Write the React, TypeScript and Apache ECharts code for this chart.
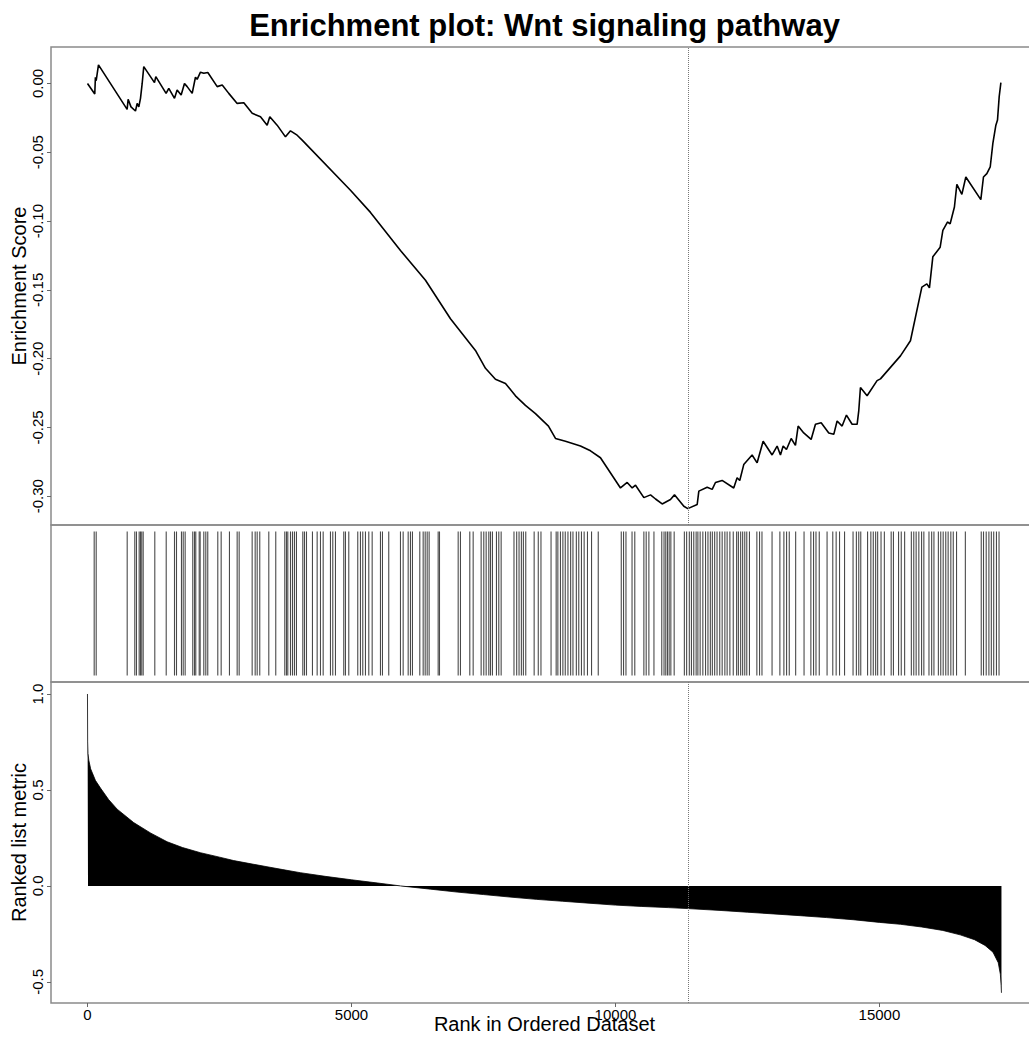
import React, { useEffect, useRef } from "react";
import * as echarts from "echarts";

const TITLE = "Enrichment plot: Wnt signaling pathway";
const X_TITLE = "Rank in Ordered Dataset";
const Y_TITLE_TOP = "Enrichment Score";
const Y_TITLE_BOTTOM = "Ranked list metric";

const X_TICKS = [0, 5000, 10000, 15000];
const ES_TICKS = [-0.3, -0.25, -0.2, -0.15, -0.1, -0.05, 0.0];
const METRIC_TICKS = [-0.5, 0.0, 0.5, 1.0];

const PEAK_RANK = 11370;

// running enrichment score: [rank, ES]
const esCurve: number[][] = [
  [0, 0], [138, -0.0077], [150, 0.0045], [165, 0.002], [208, 0.0135], [751, -0.0188], [770, -0.0115],
  [824, -0.017], [909, -0.02], [941, -0.0145], [972, -0.017], [1004, -0.0108], [1036, 0.0], [1066, 0.0122],
  [1269, 0.0006], [1294, 0.005], [1489, -0.0072], [1540, -0.0035], [1648, -0.0108], [1698, -0.0047],
  [1774, -0.0084], [1837, 0.0], [1888, -0.0023], [1983, -0.0072], [2045, 0.0045], [2077, 0.003],
  [2140, 0.0082], [2203, 0.0074], [2279, 0.008], [2457, -0.0023], [2552, -0.0011], [2676, -0.0072],
  [2835, -0.0145], [2961, -0.014], [3120, -0.0217], [3277, -0.0242], [3403, -0.0303], [3453, -0.0242],
  [3592, -0.0303], [3750, -0.0388], [3845, -0.0344], [3971, -0.0376], [4066, -0.0412], [4981, -0.0776],
  [5360, -0.0937], [5928, -0.1214], [6402, -0.143], [6875, -0.171], [7348, -0.194], [7538, -0.207],
  [7727, -0.215], [7917, -0.218], [8106, -0.227], [8295, -0.234], [8485, -0.24], [8731, -0.249],
  [8864, -0.258], [9053, -0.26], [9337, -0.2635], [9527, -0.267], [9716, -0.272], [10095, -0.294],
  [10222, -0.29], [10317, -0.294], [10380, -0.292], [10538, -0.301], [10664, -0.299], [10759, -0.302],
  [10885, -0.3056], [11042, -0.3024], [11118, -0.299], [11295, -0.3073], [11370, -0.309], [11548, -0.306],
  [11579, -0.2963], [11737, -0.2934], [11832, -0.295], [11894, -0.29], [12020, -0.2885], [12240, -0.294],
  [12304, -0.2866], [12354, -0.2886], [12430, -0.277], [12588, -0.27], [12683, -0.2757], [12797, -0.26],
  [12967, -0.27], [13062, -0.2635], [13125, -0.27], [13176, -0.2635], [13239, -0.266], [13328, -0.258],
  [13409, -0.263], [13460, -0.249], [13566, -0.254], [13706, -0.2587], [13788, -0.2477], [13896, -0.2466],
  [14040, -0.254], [14135, -0.255], [14198, -0.2453], [14293, -0.249], [14375, -0.241], [14482, -0.2477],
  [14577, -0.2477], [14608, -0.238], [14640, -0.221], [14766, -0.227], [14955, -0.216], [15019, -0.2147],
  [15398, -0.198], [15587, -0.187], [15803, -0.148], [15898, -0.1457], [15947, -0.1486], [16011, -0.126],
  [16150, -0.119], [16201, -0.1068], [16288, -0.1007], [16339, -0.102], [16420, -0.0898], [16466, -0.0733],
  [16561, -0.0806], [16636, -0.068], [16920, -0.0844], [16970, -0.068], [17034, -0.0655], [17098, -0.0607],
  [17148, -0.0436], [17205, -0.0303], [17236, -0.0266], [17268, -0.0096], [17300, 0.0006],
];

// positions (ranks) of pathway genes in the ordered list
const hitRanks: number[] = [
  127, 165, 752, 896, 928, 979, 1004, 1028, 1055, 1275, 1491, 1648, 1686, 1780, 1813, 1850, 1994, 2027,
  2051, 2116, 2134, 2203, 2241, 2278, 2468, 2532, 2689, 2835, 2873, 3119, 3176, 3214, 3263, 3434, 3566,
  3737, 3769, 3794, 3845, 3883, 3920, 3958, 4078, 4110, 4148, 4261, 4350, 4413, 4464, 4602, 4646, 4697,
  4854, 4886, 4949, 5119, 5170, 5214, 5265, 5328, 5392, 5549, 5587, 5706, 5928, 5979, 6074, 6117, 6155,
  6294, 6358, 6396, 6434, 6471, 6642, 6667, 7021, 7064, 7241, 7305, 7456, 7506, 7551, 7601, 7633, 7670,
  7746, 7790, 7835, 8078, 8129, 8174, 8218, 8256, 8301, 8460, 8538, 8589, 8780, 8877, 8909, 8958, 9004,
  9049, 9100, 9151, 9195, 9259, 9305, 9356, 9407, 9470, 9547, 9674, 10110, 10153, 10199, 10314, 10366,
  10538, 10582, 10633, 10729, 10877, 10920, 10953, 10985, 11017, 11049, 11112, 11305, 11348, 11399, 11439,
  11483, 11528, 11561, 11604, 11655, 11706, 11752, 11797, 11835, 11879, 11924, 11975, 12021, 12072, 12115,
  12167, 12231, 12295, 12328, 12371, 12409, 12449, 12487, 12538, 12678, 12729, 12775, 12966, 13114, 13190,
  13241, 13292, 13413, 13572, 13701, 13752, 13798, 13860, 14008, 14116, 14180, 14244, 14339, 14500, 14563,
  14608, 14646, 14775, 14837, 14883, 14928, 14966, 15030, 15093, 15222, 15265, 15362, 15413, 15477, 15604,
  15650, 15695, 15746, 15798, 15841, 15938, 15989, 16032, 16116, 16161, 16207, 16256, 16301, 16352, 16398,
  16460, 16627, 16928, 16971, 17022, 17073, 17119, 17164, 17216, 17265,
];

// ranked list metric: [rank, value]
const metricCurve: number[][] = [
  [0, 1.0], [3, 0.75], [10, 0.69], [25, 0.655], [60, 0.61], [150, 0.55], [246, 0.51], [400, 0.45],
  [562, 0.4], [875, 0.33], [1200, 0.275], [1509, 0.23], [1800, 0.2], [2140, 0.173], [2500, 0.15],
  [2770, 0.132], [3100, 0.115], [3400, 0.1], [3700, 0.085], [4030, 0.069], [4500, 0.05], [5000, 0.032],
  [5500, 0.015], [5930, 0.0], [6500, -0.017], [7000, -0.032], [7500, -0.045], [8000, -0.058],
  [8500, -0.07], [9000, -0.08], [9500, -0.09], [10000, -0.1], [10500, -0.107], [11000, -0.113],
  [11364, -0.118], [12000, -0.128], [12500, -0.137], [13000, -0.146], [13500, -0.155], [14000, -0.165],
  [14500, -0.176], [15000, -0.19], [15400, -0.2], [15800, -0.214], [16200, -0.232], [16530, -0.255],
  [16800, -0.28], [17000, -0.31], [17150, -0.345], [17250, -0.4], [17290, -0.46], [17305, -0.52],
  [17311, -0.557],
];

const X_MIN = -691;
const X_MAX = 18003;
const FONT = "'Liberation Sans', Arial, Helvetica, sans-serif";
const FRAME = "#8a8a8a";
const TICK = "#666";

export default function App() {
  const ref = useRef<HTMLDivElement>(null);
  useEffect(() => {
    if (!ref.current) return;
    const chart = echarts.init(ref.current, null, { renderer: "svg" });
    const grids = [
      { left: 51, top: 47, width: 987, height: 478 },
      { left: 51, top: 525, width: 987, height: 157 },
      { left: 51, top: 682, width: 987, height: 321 },
    ].map((g) => ({
      ...g, show: true, borderColor: FRAME, borderWidth: 1.5, backgroundColor: "transparent",
      containLabel: false, outerBoundsMode: "none",
    }));

    const hiddenX = (i: number) => ({
      type: "value", gridIndex: i, min: X_MIN, max: X_MAX, show: false, splitLine: { show: false },
      axisLine: { show: false, onZero: false },
    });

    const option: any = {
      animation: false,
      backgroundColor: "#fff",
      grid: grids,
      graphic: [
        {
          type: "text",
          x: 544.5,
          y: 25,
          style: {
            text: TITLE,
            font: `bold 31px ${FONT}`,
            fill: "#000",
            textAlign: "center",
            textVerticalAlign: "middle",
          },
        },
      ],
      xAxis: [
        hiddenX(0),
        hiddenX(1),
        {
          type: "value", gridIndex: 2, min: X_MIN, max: X_MAX,
          splitLine: { show: false },
          axisLine: { show: false, onZero: false },
          axisTick: { show: true, length: 4, lineStyle: { color: TICK, width: 1 }, customValues: X_TICKS },
          axisLabel: {
            customValues: X_TICKS, color: "#000", fontSize: 15, fontFamily: FONT, margin: 4,
            formatter: (v: number) => String(Math.round(v)),
          },
          name: X_TITLE, nameLocation: "middle", nameGap: 11, nameMoveOverlap: false,
          nameTextStyle: { fontSize: 20, fontFamily: FONT, color: "#000" },
        },
      ],
      yAxis: [
        {
          type: "value", gridIndex: 0, min: -0.3209, max: 0.0265,
          splitLine: { show: false },
          axisLine: { show: false, onZero: false },
          axisTick: { show: true, length: 4, lineStyle: { color: TICK, width: 1 }, customValues: ES_TICKS },
          axisLabel: {
            customValues: ES_TICKS, rotate: 90, margin: 6, color: "#000", fontSize: 15, fontFamily: FONT,
            formatter: (v: number) => v.toFixed(2),
          },
          name: Y_TITLE_TOP, nameLocation: "middle", nameRotate: 90, nameGap: 22, nameMoveOverlap: false,
          nameTextStyle: { fontSize: 20, fontFamily: FONT, color: "#000" },
        },
        {
          type: "value", gridIndex: 1, min: -0.045, max: 1.045, show: false, splitLine: { show: false },
          axisLine: { show: false, onZero: false },
        },
        {
          type: "value", gridIndex: 2, min: -0.61, max: 1.0625,
          splitLine: { show: false },
          axisLine: { show: false, onZero: false },
          axisTick: { show: true, length: 4, lineStyle: { color: TICK, width: 1 }, customValues: METRIC_TICKS },
          axisLabel: {
            customValues: METRIC_TICKS, rotate: 90, margin: 6, color: "#000", fontSize: 15, fontFamily: FONT,
            formatter: (v: number) => v.toFixed(1),
          },
          name: Y_TITLE_BOTTOM, nameLocation: "middle", nameRotate: 90, nameGap: 22, nameMoveOverlap: false,
          nameTextStyle: { fontSize: 20, fontFamily: FONT, color: "#000" },
        },
      ],
      series: [
        {
          type: "line", xAxisIndex: 0, yAxisIndex: 0, data: esCurve, symbol: "none",
          lineStyle: { color: "#000", width: 1.6 },
          markLine: {
            silent: true, symbol: "none", label: { show: false },
            lineStyle: { type: "dotted", color: "#777", width: 1 },
            data: [{ xAxis: PEAK_RANK }],
          },
        },
        {
          type: "custom", xAxisIndex: 1, yAxisIndex: 1,
          data: hitRanks.map((r) => [r, 0]),
          renderItem: (_p: any, api: any) => {
            const x = api.value(0);
            const a = api.coord([x, 0]);
            const b = api.coord([x, 1]);
            return {
              type: "line",
              shape: { x1: a[0], y1: a[1], x2: b[0], y2: b[1] },
              style: { stroke: "#4a4a4a", lineWidth: 1.1 },
            };
          },
        },
        {
          type: "line", xAxisIndex: 2, yAxisIndex: 2, data: metricCurve, symbol: "none",
          lineStyle: { color: "#000", width: 0.8 },
          areaStyle: { color: "#000", opacity: 1 },
          markLine: {
            silent: true, symbol: "none", label: { show: false },
            lineStyle: { type: "dotted", color: "#777", width: 1 },
            data: [{ xAxis: PEAK_RANK }],
          },
        },
      ],
    };
    chart.setOption(option);
    return () => chart.dispose();
  }, []);
  return (
    <div style={{ position: "absolute", left: 0, top: 0, width: 1029, height: 1039, overflow: "hidden" }}>
      <div ref={ref} style={{ width: 1045, height: 1039 }} />
    </div>
  );
}
